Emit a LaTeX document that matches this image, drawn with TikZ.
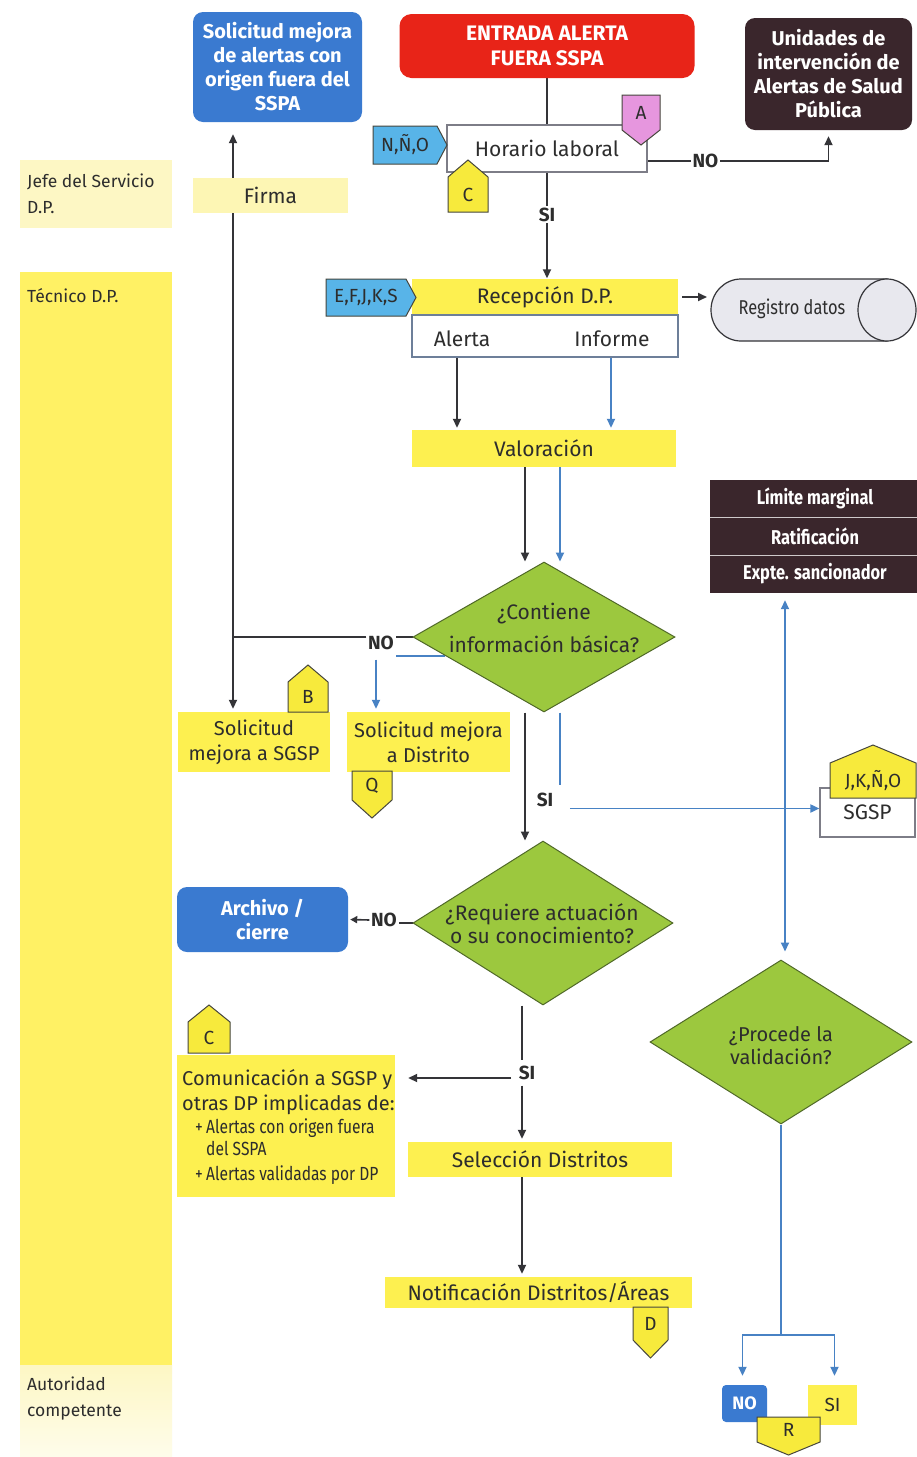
\documentclass[tikz,border=0pt]{standalone}
\usepackage{fontspec}
\setmainfont{Fira Sans}
\newfontfamily\narrowfont{Fira Sans}[FakeStretch=0.82]
\usetikzlibrary{arrows.meta,shapes.geometric,calc}

\definecolor{laneyellow}{RGB}{255,241,100}
\definecolor{lanepale}{RGB}{253,247,196}
\definecolor{boxyellow}{RGB}{253,240,80}
\definecolor{palebox}{RGB}{253,246,180}
\definecolor{tagyellow}{RGB}{247,234,60}
\definecolor{tagblue}{RGB}{88,180,232}
\definecolor{tagpink}{RGB}{230,150,222}
\definecolor{tagedge}{RGB}{70,70,60}
\definecolor{boxblue}{RGB}{58,122,208}
\definecolor{alertred}{RGB}{232,36,24}
\definecolor{darkbox}{RGB}{58,38,44}
\definecolor{diagreen}{RGB}{156,200,62}
\definecolor{diaedge}{RGB}{80,105,40}
\definecolor{wireblue}{RGB}{72,130,196}
\definecolor{wiredark}{RGB}{52,52,56}
\definecolor{inkdark}{RGB}{45,45,45}
\definecolor{greyedge}{RGB}{125,125,135}
\definecolor{cylfill}{RGB}{232,232,238}

\pgfdeclarelayer{lanes}
\pgfdeclarelayer{wires}
\pgfsetlayers{lanes,wires,main}

% pentagon flags: name, left x, reference y, width, body height, tip length, fill, text
\newcommand{\flagup}[8]{%
  \draw[flagline, fill=#7] (#2,#3) -- ++(#4,0) -- ++(0,-#5) -- ++(-#4/2,-#6) -- ++(-#4/2,#6) -- cycle;
  \node[flagtext] (#1) at ({#2+#4/2},{#3-#5/2}) {#8};}
\newcommand{\flagdown}[8]{%
  \draw[flagline, fill=#7] (#2,#3) -- ++(#4,0) -- ++(0,#5) -- ++(-#4/2,#6) -- ++(-#4/2,-#6) -- cycle;
  \node[flagtext] (#1) at ({#2+#4/2},{#3+#5/2}) {#8};}
\newcommand{\flagright}[8]{%
  \draw[flagline, fill=#7] (#2,#3) -- ++(#4,0) -- ++(#6,#5/2) -- ++(-#6,#5/2) -- ++(-#4,0) -- cycle;
  \node[flagtext] (#1) at ({#2+#4/2},{#3+#5/2}) {#8};}

\begin{document}
\begin{tikzpicture}[x=1pt,y=-1pt,
  every node/.style={inner sep=0pt, text=inkdark},
  txt/.style={font=\fontsize{21}{25}\selectfont},
  ybox/.style={fill=boxyellow, txt},
  pbox/.style={fill=palebox, txt},
  wbox/.style={fill=white, draw=greyedge, line width=1.2pt, txt},
  bbox/.style={fill=boxblue, rounded corners=10pt, text=white, align=center,
               font=\bfseries\fontsize{20}{24}\selectfont},
  rbox/.style={fill=alertred, rounded corners=12pt, text=white, align=center,
               font=\bfseries\fontsize{21}{25}\selectfont},
  dbox/.style={fill=darkbox, rounded corners=10pt, text=white, align=center,
               font=\bfseries\fontsize{20}{24}\selectfont},
  limtext/.style={text=white, font=\narrowfont\bfseries\fontsize{20}{24}\selectfont},
  diam/.style={diamond, fill=diagreen, draw=diaedge, line width=1pt},
  diatext/.style={align=center, txt},
  lanetext/.style={align=left, font=\fontsize{17.5}{26}\selectfont},
  lbl/.style={fill=white, inner sep=1.5pt, font=\bfseries\fontsize{19}{22}\selectfont},
  flagline/.style={draw=tagedge, line width=1pt},
  flagtext/.style={font=\fontsize{19}{22}\selectfont},
  dk/.style={draw=wiredark, line width=1.8pt},
  dkarr/.style={dk, -{Triangle[length=9pt,width=8pt]}},
  bl/.style={draw=wireblue, line width=1.8pt},
  blarr/.style={bl, -{Triangle[length=9pt,width=8pt]}},
  blboth/.style={bl, {Triangle[length=9pt,width=8pt]}-{Triangle[length=9pt,width=8pt]}}
]
\useasboundingbox (0,0) rectangle (917,1457);

% ---------- swimlanes ----------
\begin{pgfonlayer}{lanes}
  \fill[white] (0,0) rectangle (917,1457);
  \fill[lanepale] (20,160) rectangle (172,228);
  \fill[laneyellow] (20,272) rectangle (172,1365);
  \shade[top color=lanepale, bottom color=lanepale!35!white] (20,1365) rectangle (172,1457);
\end{pgfonlayer}
\node[lanetext, anchor=west] (jefe) at (27,194) {Jefe del Servicio\\D.P.};
\node[lanetext, anchor=west] (tecnico) at (27,296) {Técnico D.P.};
\node[lanetext, anchor=west] (autoridad) at (27,1399) {Autoridad\\competente};

% ---------- top row ----------
\node[bbox, minimum width=169pt, minimum height=110pt] (soltop) at (277.5,67)
  {Solicitud mejora\\de alertas con\\origen fuera del\\SSPA};
\node[rbox, minimum width=295pt, minimum height=64pt] (entrada) at (547,46)
  {ENTRADA ALERTA\\FUERA SSPA};
\node[dbox, minimum width=167pt, minimum height=112pt] (unidades) at (828.5,74)
  {Unidades de\\intervención de\\Alertas de Salud\\Pública};

\node[wbox, minimum width=200pt, minimum height=47pt] (horario) at (547,148.5) {Horario laboral};
\node[pbox, minimum width=155pt, minimum height=35pt] (firma) at (270.5,195.5) {Firma};

\flagright{tagNNO}{373}{126}{64}{38}{10}{tagblue}{N,Ñ,O}
\flagdown{tagA}{622}{95}{38}{35}{15}{tagpink}{A}
\flagup{tagC}{448}{212}{40}{35}{17}{tagyellow}{C}

% ---------- reception ----------
\node[ybox, minimum width=266pt, minimum height=37pt] (recep) at (545,297) {Recepción D.P.};
\node[wbox, draw=greyedge!70!wireblue, minimum width=266pt, minimum height=42pt] (ai) at (545,336) {};
\node[txt] (alerta) at (462,339) {Alerta};
\node[txt] (informe) at (612,339) {Informe};
\flagright{tagEF}{326}{279}{80}{37}{10}{tagblue}{E,F,J,K,S}

% data store
\filldraw[fill=cylfill, draw=wiredark, line width=1.2pt]
  (887,341) -- (741,341) arc[start angle=90, end angle=270, x radius=30, y radius=31] -- (887,279) -- cycle;
\filldraw[fill=cylfill, draw=wiredark, line width=1.2pt] (887,310) ellipse[x radius=29, y radius=31];
\node[font=\narrowfont\fontsize{20}{24}\selectfont] (registro) at (792,309) {Registro datos};
\coordinate (regin) at (707,297);

\node[ybox, minimum width=264pt, minimum height=37pt] (valor) at (544,448.5) {Valoración};

% ---------- sanction box ----------
\node[fill=darkbox, minimum width=207pt, minimum height=113pt] (limite) at (813.5,536.5) {};
\draw[white!75!darkbox, line width=1.5pt] ($(limite.north west)+(0,37.5)$) -- ($(limite.north east)+(0,37.5)$);
\draw[white!75!darkbox, line width=1.5pt] ($(limite.north west)+(0,75.5)$) -- ($(limite.north east)+(0,75.5)$);
\node[limtext] (lim1) at (815,498) {Límite marginal};
\node[limtext] (lim2) at (815,536) {Ratificación};
\node[limtext] (lim3) at (815,574) {Expte. sancionador};

% ---------- first decision ----------
\node[diam, minimum width=262pt, minimum height=150pt] (d1) at (544,637) {};
\node[diatext, font=\fontsize{21}{33}\selectfont] (d1t) at (544,628) {¿Contiene\\información básica?};

\node[ybox, align=center, font=\fontsize{20}{25}\selectfont, minimum width=152pt, minimum height=60pt] (solsgsp) at (254,742)
  {Solicitud\\mejora a SGSP};
\node[ybox, align=center, font=\fontsize{20}{25}\selectfont, minimum width=163pt, minimum height=60pt] (soldist) at (428.5,742)
  {Solicitud mejora\\a Distrito};
\flagup{tagB}{288}{712}{40}{30}{17}{tagyellow}{B}
\flagdown{tagQ}{352}{771}{40}{29}{18}{tagyellow}{Q}

\node[wbox, minimum width=95pt, minimum height=49pt] (sgsp) at (867.5,812.5) {SGSP};
\flagup{tagJK}{830}{798}{86}{35}{18}{tagyellow}{J,K,Ñ,O}

% ---------- second decision ----------
\node[diam, minimum width=260pt, minimum height=164pt] (d2) at (543,923) {};
\node[diatext, font=\fontsize{21}{23}\selectfont] (d2t) at (542,924) {¿Requiere actuación\\o su conocimiento?};
\node[bbox, minimum width=171pt, minimum height=65pt] (archivo) at (262.5,919.5) {Archivo /\\cierre};

\node[ybox, minimum width=218pt, minimum height=142pt] (com) at (286,1126) {};
\node[anchor=base west, font=\fontsize{20}{24}\selectfont] (com1) at (182,1085) {Comunicación a SGSP y};
\node[anchor=base west, font=\fontsize{20}{24}\selectfont] (com2) at (182,1110) {otras DP implicadas de:};
\node[anchor=base west, font=\narrowfont\fontsize{19}{22}\selectfont] (com3) at (195,1133) {+\,Alertas con origen fuera};
\node[anchor=base west, font=\narrowfont\fontsize{19}{22}\selectfont] (com4) at (206,1155) {del SSPA};
\node[anchor=base west, font=\narrowfont\fontsize{19}{22}\selectfont] (com5) at (195,1180) {+\,Alertas validadas por DP};
\flagup{tagC2}{188}{1053}{42}{31}{17}{tagyellow}{C}

\node[ybox, minimum width=264pt, minimum height=35pt] (selec) at (540,1159.5) {Selección Distritos};
\node[ybox, minimum width=307pt, minimum height=31pt] (notif) at (538.5,1292.5) {Notificación Distritos/Áreas};
\flagdown{tagD}{633}{1307}{35}{33}{18}{tagyellow}{D}

% ---------- validation ----------
\node[diam, minimum width=262pt, minimum height=164pt] (d3) at (781,1042) {};
\node[diatext, font=\fontsize{20}{23}\selectfont] (d3t) at (781,1046) {¿Procede la\\validación?};
\node[fill=boxblue, rounded corners=4pt, text=white, font=\bfseries\fontsize{18}{20}\selectfont,
      minimum width=45pt, minimum height=37pt] (nobox) at (744.5,1403.5) {NO};
\node[fill=boxyellow, font=\fontsize{19}{20}\selectfont, minimum width=49pt, minimum height=40pt] (sibox) at (832.5,1405) {SI};
\flagdown{tagR}{757}{1417}{63}{25}{13}{tagyellow}{R}

% ---------- connectors ----------
\coordinate (xA) at (457,0);
\coordinate (xI) at (611,0);
\coordinate (xdk) at (525,0);
\coordinate (xbl) at (560,0);
\coordinate (xL) at (233,0);
\coordinate (xQ) at (376,0);
\coordinate (xV) at (785,0);
\coordinate (xS) at (522,0);
\coordinate (split) at (781,1335);

\node[lbl] (no1) at (381,643) {NO};
\node[lbl] (si1) at (545,800) {SI};
\node[lbl] (no2) at (384,920) {NO};
\node[lbl] (si3) at (527,1073) {SI};

\begin{pgfonlayer}{wires}
  \draw[dk] (entrada.south) -- (entrada.south |- horario.north);
  \draw[dkarr] ([yshift=-12.5pt]horario.east) -| node[lbl, pos=0.16] (no0) {NO} ([yshift=-6pt]unidades.south);
  \draw[dkarr] (horario.south) -- node[lbl, pos=0.4] (si0) {SI} (horario.south |- recep.north);
  \draw[dkarr] ([xshift=4pt]recep.east) -- (regin);
  \draw[dkarr] (ai.south -| xA) -- ($(valor.north -| xA)+(0,-2)$);
  \draw[blarr] (ai.south -| xI) -- ($(valor.north -| xI)+(0,-2)$);
  \draw[dkarr] (valor.south -| xdk) -- (xdk |- d1.north);
  \draw[blarr] (valor.south -| xbl) -- (xbl |- d1.north);
  % no basic information
  \draw[dk] (d1.west) -- (d1.west -| no1.east);
  \draw[dk] (no1.west |- d1.west) -- (xL |- d1.west);
  \draw[dkarr] (xL |- d1.west) -- ($(xL |- soltop.south)+(0,12)$);
  \draw[dkarr] (xL |- d1.west) -- ($(xL |- solsgsp.north)+(0,-3)$);
  \coordinate (d1bl) at ($(d1.west)!0.25!(d1.south)$);
  \draw[bl] (d1bl) -- (d1bl -| no1.east);
  \draw[blarr] ($(no1.south -| xQ)+(0,8)$) -- ($(xQ |- soldist.north)+(0,-3)$);
  % basic information present
  \draw[dkarr] (d1.south -| xdk) -- (xdk |- d2.north);
  \draw[bl] (d1.south -| xbl) -- ($(xbl |- si1.north)+(0,-6)$);
  \draw[blarr] ($(si1.east |- sgsp.west)+(15,-4)$) -- ([yshift=4pt]sgsp.west);
  \draw[blboth] ($(limite.south -| xV)+(0,7)$) -- ($(xV |- d3.north)+(0,-8)$);
  % action required
  \draw[dk] (d2.west) -- (d2.west -| no2.east);
  \draw[-{Triangle[length=7pt,width=7pt]}, draw=wiredark, line width=1.6pt] (no2.west) -- ([xshift=2pt]archivo.east);
  \draw[dk] (d2.south -| xS) -- ($(xS |- si3.north)+(0,-4)$);
  \draw[dkarr] ($(xS |- si3.south)+(0,4)$) -- ($(xS |- selec.north)+(0,-3)$);
  \draw[dkarr] ($(si3.west)+(-6,5)$) -- ($(com.east |- si3.west)+(13,5)$);
  \draw[dkarr] (selec.south -| xS) -- ($(xS |- notif.north)+(0,-3)$);
  % validation outcome
  \draw[bl] (d3.south) -- (split);
  \draw[blarr] (split) -| ($(nobox.north)+(-2,-9)$);
  \draw[blarr] (split) -| ($(sibox.north)+(2,-9)$);
\end{pgfonlayer}
\end{tikzpicture}
\end{document}
